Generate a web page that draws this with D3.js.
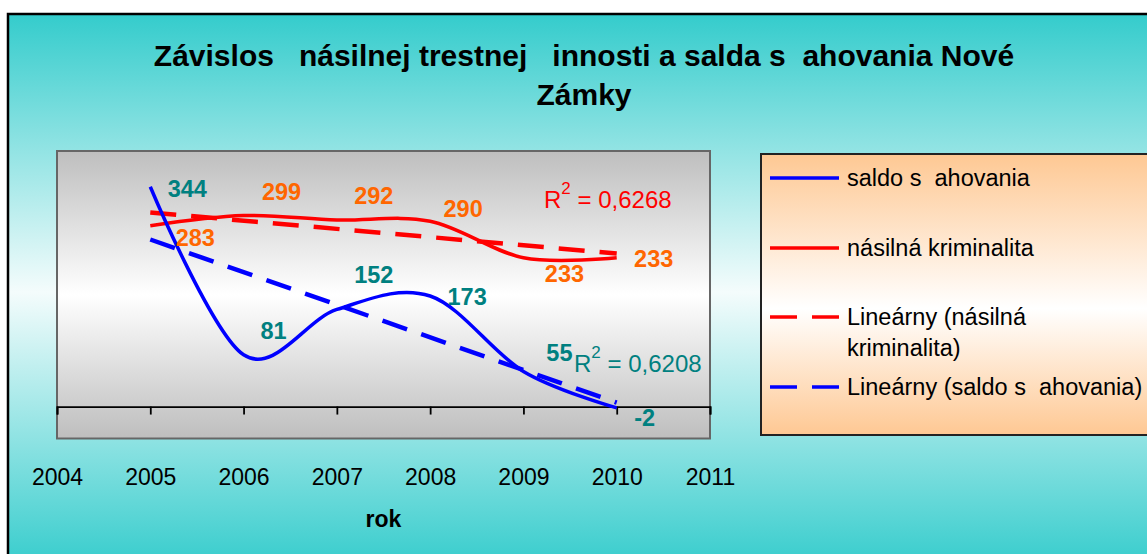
<!DOCTYPE html>
<html><head><meta charset="utf-8">
<script src="https://cdn.jsdelivr.net/npm/d3@7"></script>
<style>html,body{margin:0;padding:0;background:#fff;overflow:hidden}svg{display:block;font-family:"Liberation Sans",Arial,sans-serif}</style>
</head><body><svg id="c" width="1147" height="554"></svg>
<script>
// ---- data ----
const years = [2005, 2006, 2007, 2008, 2009, 2010];
const saldo = [344, 81, 152, 173, 55, -2];
const kriminalita = [283, 299, 292, 290, 233, 233];
const xTicks = [2004, 2005, 2006, 2007, 2008, 2009, 2010, 2011];
const yDomain = [-50, 400];
const titleLines = ["Závislos   násilnej trestnej   innosti a salda s  ahovania Nové", "Zámky"];
const xTitle = "rok";
const legendLabels = [["saldo s  ahovania"], ["násilná kriminalita"], ["Lineárny (násilná", "kriminalita)"], ["Lineárny (saldo s  ahovania)"]];

// ---- layout (annotation placement, not data) ----
const saldoLabelOffsets = [[37, 10], [30, -16], [37, -26], [37, 9], [36, -10], [28, 18]];
const krimLabelOffsets = [[45, 20], [38, -16], [37, -16], [33, -4], [41, 24], [37, 9]];

const W = 1147, H = 554;
const plot = {l: 57, r: 710, t: 151, b: 438.5};
const svg = d3.select("#c");
const defs = svg.append("defs");
function vgrad(id, stops) {
  const g = defs.append("linearGradient").attr("id", id).attr("x1", 0).attr("y1", 0).attr("x2", 0).attr("y2", 1);
  stops.forEach(([o, c]) => g.append("stop").attr("offset", o).attr("stop-color", c));
}
vgrad("bg", [[0, "#34CCCC"], [0.5, "#F4FCFC"], [1, "#34CCCC"]]);
vgrad("plotbg", [[0, "#BEBEBE"], [0.5, "#FFFFFF"], [1, "#BEBEBE"]]);
vgrad("legbg", [[0, "#FEC893"], [0.55, "#FFFFFF"], [1, "#FEC893"]]);

// outer chart area
svg.append("rect").attr("x", 8).attr("y", 14).attr("width", W + 20).attr("height", 556)
  .attr("fill", "url(#bg)").attr("stroke", "#000").attr("stroke-width", 2.5);

// title
svg.append("g").selectAll("text").data(titleLines).join("text")
  .attr("x", 584).attr("y", (d, i) => 66 + i * 39)
  .attr("text-anchor", "middle").attr("font-size", 30).attr("font-weight", "bold")
  .attr("fill", "#000").style("white-space", "pre").text(d => d);

// scales
const x = d3.scaleLinear().domain([xTicks[0], xTicks[xTicks.length - 1]]).range([plot.l, plot.r]);
const y = d3.scaleLinear().domain(yDomain).range([plot.b, plot.t]);

// plot area
svg.append("rect").attr("x", plot.l).attr("y", plot.t).attr("width", plot.r - plot.l).attr("height", plot.b - plot.t)
  .attr("fill", "url(#plotbg)").attr("stroke", "#666").attr("stroke-width", 2);

// x axis at y = 0
const axis = d3.axisBottom(x).tickValues(xTicks).tickSize(8).tickFormat(d3.format("d"));
const ag = svg.append("g").attr("transform", `translate(0,${y(0)})`).call(axis);
ag.select(".domain").attr("stroke", "#000").attr("stroke-width", 1.8);
ag.selectAll(".tick line").attr("stroke", "#000").attr("stroke-width", 1.8);
ag.selectAll(".tick text").attr("y", 78).attr("dy", 0).attr("font-size", 23)
  .attr("font-family", "'Liberation Sans',Arial,sans-serif").attr("fill", "#000");

svg.append("text").attr("x", (plot.l + plot.r) / 2).attr("y", 527).attr("text-anchor", "middle")
  .attr("font-size", 23).attr("font-weight", "bold").text(xTitle);

// linear regression
function linreg(xs, ys) {
  const n = xs.length, mx = d3.mean(xs), my = d3.mean(ys);
  let sxy = 0, sxx = 0, syy = 0;
  for (let i = 0; i < n; i++) { sxy += (xs[i] - mx) * (ys[i] - my); sxx += (xs[i] - mx) ** 2; syy += (ys[i] - my) ** 2; }
  const slope = sxy / sxx, icpt = my - slope * mx;
  return {f: v => icpt + slope * v, r2: sxy * sxy / (sxx * syy)};
}
const regK = linreg(years, kriminalita), regS = linreg(years, saldo);
const x0 = years[0], x1 = years[years.length - 1];
const straight = d3.line().x(d => x(d[0])).y(d => y(d[1]));
const smooth = d3.line().x(d => x(d[0])).y(d => y(d[1])).curve(d3.curveCardinal.tension(0));

const g = svg.append("g").attr("fill", "none");
g.append("path").attr("d", straight([[x0, regK.f(x0)], [x1, regK.f(x1)]]))
  .attr("stroke", "#FF0000").attr("stroke-width", 4.5).attr("stroke-dasharray", "26,15");
g.append("path").attr("d", straight([[x0, regS.f(x0)], [x1, regS.f(x1)]]))
  .attr("stroke", "#0000FF").attr("stroke-width", 4.5).attr("stroke-dasharray", "26,15");
g.append("path").attr("d", smooth(years.map((d, i) => [d, kriminalita[i]])))
  .attr("stroke", "#FF0000").attr("stroke-width", 3.5).attr("stroke-linejoin", "round");
g.append("path").attr("d", smooth(years.map((d, i) => [d, saldo[i]])))
  .attr("stroke", "#0000FF").attr("stroke-width", 3.5).attr("stroke-linejoin", "round");

// data labels
const lab = svg.append("g").attr("font-size", 23.5).attr("font-weight", "bold").attr("text-anchor", "middle");
lab.selectAll("text.k").data(kriminalita).join("text").attr("class", "k")
  .attr("x", (d, i) => x(years[i]) + krimLabelOffsets[i][0])
  .attr("y", (d, i) => y(d) + krimLabelOffsets[i][1])
  .attr("fill", "#FF6600").text(d => d);
lab.selectAll("text.s").data(saldo).join("text").attr("class", "s")
  .attr("x", (d, i) => x(years[i]) + saldoLabelOffsets[i][0])
  .attr("y", (d, i) => y(d) + saldoLabelOffsets[i][1])
  .attr("fill", "#008080").text(d => d);

// R² labels
function r2Text(xp, yp, val, color) {
  const t = svg.append("text").attr("x", xp).attr("y", yp).attr("font-size", 24).attr("fill", color);
  t.append("tspan").text("R");
  t.append("tspan").attr("font-size", 17).attr("dy", -14).text("2");
  t.append("tspan").attr("dy", 14).style("white-space", "pre").text(" = " + d3.format(".4f")(val).replace(".", ","));
}
r2Text(544, 208, regK.r2, "#FF0000");
r2Text(574, 372, regS.r2, "#008080");

// legend
svg.append("rect").attr("x", 761).attr("y", 154).attr("width", 420).attr("height", 281)
  .attr("fill", "url(#legbg)").attr("stroke", "#222").attr("stroke-width", 2);
const legStyles = [
  {c: "#0000FF", dash: null, y: 178},
  {c: "#FF0000", dash: null, y: 248},
  {c: "#FF0000", dash: "27,15", y: 317},
  {c: "#0000FF", dash: "27,15", y: 387}
];
legStyles.forEach((s, i) => {
  svg.append("line").attr("x1", 770).attr("x2", 839).attr("y1", s.y).attr("y2", s.y)
    .attr("stroke", s.c).attr("stroke-width", 3.5).attr("stroke-dasharray", s.dash);
  const t = svg.append("text").attr("x", 847).attr("y", s.y + 8).attr("font-size", 23.5).attr("fill", "#000");
  legendLabels[i].forEach((ln, j) => {
    t.append("tspan").attr("x", 847).attr("dy", j === 0 ? 0 : 31).style("white-space", "pre").text(ln);
  });
});
</script></body></html>
